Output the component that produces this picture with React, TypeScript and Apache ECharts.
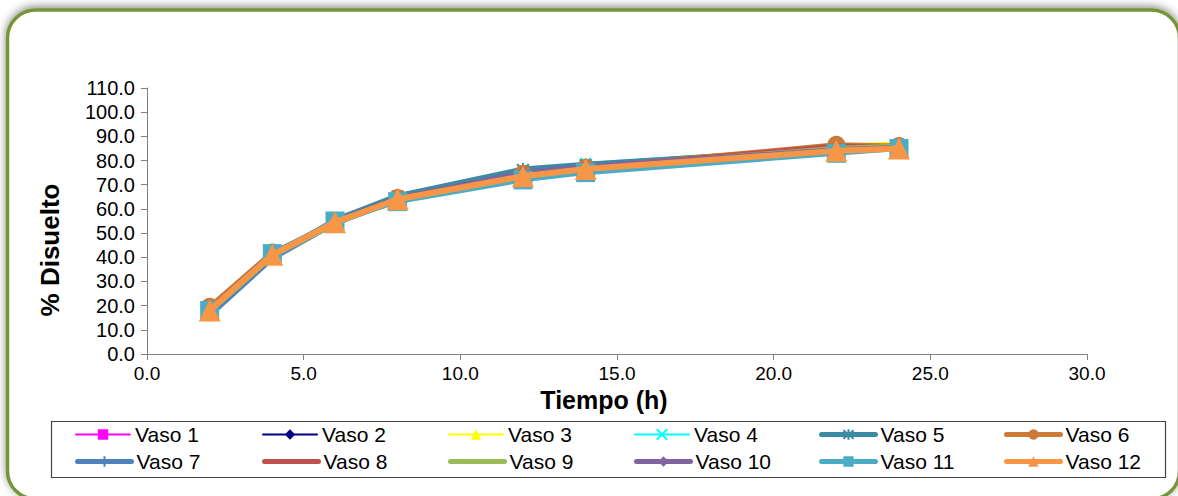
import React, { useEffect, useRef } from "react";
import * as echarts from "echarts";

// Sampling times (h)
const tiempos = [2, 4, 6, 8, 12, 14, 22, 24];

// % dissolved per vessel
const vaso1 = [17.5, 41.0, 55.0, 65.0, 75.0, 78.0, 85.5, 87.0];
const vaso2 = [17.0, 40.5, 55.5, 66.0, 75.5, 78.0, 85.0, 86.5];
const vaso3 = [18.0, 41.5, 55.0, 65.0, 75.0, 78.5, 86.5, 87.5];
const vaso4 = [17.5, 41.0, 55.5, 65.5, 76.0, 79.0, 85.5, 86.0];
const vaso5 = [17.0, 40.5, 55.5, 65.5, 76.5, 78.5, 85.0, 86.0];
const vaso6 = [19.5, 42.0, 54.0, 64.5, 74.5, 77.0, 86.5, 86.0];
const vaso7 = [16.0, 39.5, 54.0, 63.5, 73.0, 76.0, 83.5, 85.0];
const vaso8 = [18.5, 41.5, 54.5, 64.0, 74.0, 77.0, 86.0, 85.5];
const vaso9 = [17.5, 40.5, 54.0, 64.0, 74.0, 77.0, 85.0, 86.0];
const vaso10 = [18.0, 41.0, 55.0, 64.5, 75.0, 77.5, 84.5, 85.5];
const vaso11 = [18.0, 41.5, 55.0, 63.0, 72.0, 75.0, 83.0, 85.0];
const vaso12 = [18.0, 41.0, 54.5, 64.0, 73.5, 76.5, 84.0, 85.0];

const nombres = [
  "Vaso 1", "Vaso 2", "Vaso 3", "Vaso 4", "Vaso 5", "Vaso 6",
  "Vaso 7", "Vaso 8", "Vaso 9", "Vaso 10", "Vaso 11", "Vaso 12",
];
const valores = [vaso1, vaso2, vaso3, vaso4, vaso5, vaso6, vaso7, vaso8, vaso9, vaso10, vaso11, vaso12];

const FONT = "Liberation Sans, Arial, Helvetica, sans-serif";

// Marker shapes drawn as strokes
const X_MARK = "path://M0,0L10,10M10,0L0,10";
const STAR_MARK = "path://M1,1L9,9M9,1L1,9M5,0L5,10";
const PLUS_MARK = "path://M5,0L5,10M0,5L10,5";

type Estilo = { color: string; width: number; symbol: string; size: number; stroke?: boolean };

const estilos: Estilo[] = [
  { color: "#FF00FF", width: 2, symbol: "rect", size: 10 },
  { color: "#000080", width: 2, symbol: "diamond", size: 12 },
  { color: "#FFFF00", width: 2, symbol: "triangle", size: 11 },
  { color: "#00FFFF", width: 2, symbol: X_MARK, size: 10, stroke: true },
  { color: "#3A8BA3", width: 5, symbol: STAR_MARK, size: 12, stroke: true },
  { color: "#CB7A38", width: 5, symbol: "circle", size: 18 },
  { color: "#4F81BD", width: 5, symbol: PLUS_MARK, size: 12, stroke: true },
  { color: "#C0504D", width: 5, symbol: "none", size: 0 },
  { color: "#9BBB59", width: 5, symbol: "none", size: 0 },
  { color: "#8064A2", width: 5, symbol: "diamond", size: 14 },
  { color: "#4BACC6", width: 5, symbol: "rect", size: 19 },
  { color: "#F79646", width: 6, symbol: "triangle", size: 22 },
];

// Legend grid: column start of each line sample, row centres
const legendCols = [75, 262, 448, 634, 819, 1004];
const legendRows = [436, 463];

export default function App() {
  const ref = useRef<HTMLDivElement>(null);

  useEffect(() => {
    if (!ref.current) return;
    const chart = echarts.init(ref.current, null, { renderer: "svg" });

    const series = nombres.map((name, i) => {
      const e = estilos[i];
      return {
        name,
        type: "line",
        data: tiempos.map((t, k) => [t, valores[i][k]]),
        symbol: e.symbol,
        symbolSize: e.size,
        showSymbol: e.symbol !== "none",
        lineStyle: { color: e.color, width: e.width, cap: "round", join: "round" },
        itemStyle: e.stroke
          ? { color: e.color, borderColor: e.color, borderWidth: 2 }
          : { color: e.color, borderWidth: 0 },
        emphasis: { disabled: true },
        z: 2 + i * 0.01,
      };
    });

    const legends = nombres.map((name, i) => {
      const e = estilos[i];
      return {
        data: [
          {
            name,
            itemStyle: e.symbol === "none" ? { opacity: 0 } : undefined,
          },
        ],
        left: legendCols[i % 6],
        top: legendRows[Math.floor(i / 6)] - 12,
        padding: 0,
        itemWidth: 54,
        itemHeight: 13,
        selectedMode: false,
        lineStyle: { width: e.width > 2 ? 5 : 2, cap: "round" },
        textStyle: { fontFamily: FONT, fontSize: 21, color: "#000" },
      };
    });

    chart.setOption({
      animation: false,
      backgroundColor: "#ffffff",
      textStyle: { fontFamily: FONT },
      grid: { left: 147, right: 91, top: 88, bottom: 142, containLabel: false },
      xAxis: {
        type: "value",
        min: 0,
        max: 30,
        interval: 5,
        axisLine: { show: true, lineStyle: { color: "#808080", width: 1 } },
        axisTick: { show: true, length: 6, lineStyle: { color: "#808080" } },
        splitLine: { show: false },
        axisLabel: {
          formatter: (v: number) => v.toFixed(1),
          color: "#000",
          fontSize: 19,
          fontFamily: FONT,
          margin: 10,
        },
      },
      yAxis: {
        type: "value",
        min: 0,
        max: 110,
        interval: 10,
        axisLine: { show: true, lineStyle: { color: "#808080", width: 1 } },
        axisTick: { show: true, length: 6, lineStyle: { color: "#808080" } },
        splitLine: { show: false },
        axisLabel: {
          formatter: (v: number) => v.toFixed(1),
          color: "#000",
          fontSize: 20,
          fontFamily: FONT,
          margin: 12,
        },
      },
      legend: legends,
      graphic: [
        {
          type: "rect",
          z: -10,
          silent: true,
          shape: { x: 7.5, y: 10, width: 1172, height: 489, r: 28 },
          style: {
            fill: "#ffffff",
            stroke: "#76953A",
            lineWidth: 3.5,
            shadowBlur: 8,
            shadowOffsetY: -2,
            shadowColor: "rgba(0,0,0,0.45)",
          },
        },
        {
          type: "rect",
          z: -5,
          silent: true,
          shape: { x: 51.5, y: 421.5, width: 1114, height: 56 },
          style: { fill: "none", stroke: "#444444", lineWidth: 1.2 },
        },
        {
          type: "text",
          silent: true,
          x: 50,
          y: 250,
          rotation: Math.PI / 2,
          style: {
            text: "% Disuelto",
            fontFamily: FONT,
            fontWeight: "bold",
            fontSize: 26,
            fill: "#000",
            align: "center",
            verticalAlign: "middle",
            textAlign: "center",
            textVerticalAlign: "middle",
          },
        },
        {
          type: "text",
          silent: true,
          x: 604,
          y: 400,
          style: {
            text: "Tiempo (h)",
            fontFamily: FONT,
            fontWeight: "bold",
            fontSize: 25,
            fill: "#000",
            align: "center",
            verticalAlign: "middle",
            textAlign: "center",
            textVerticalAlign: "middle",
          },
        },
      ],
      series,
    });

    return () => chart.dispose();
  }, []);

  return (
    <div
      ref={ref}
      style={{ position: "absolute", left: 0, top: 0, width: 1178, height: 496 }}
    />
  );
}
